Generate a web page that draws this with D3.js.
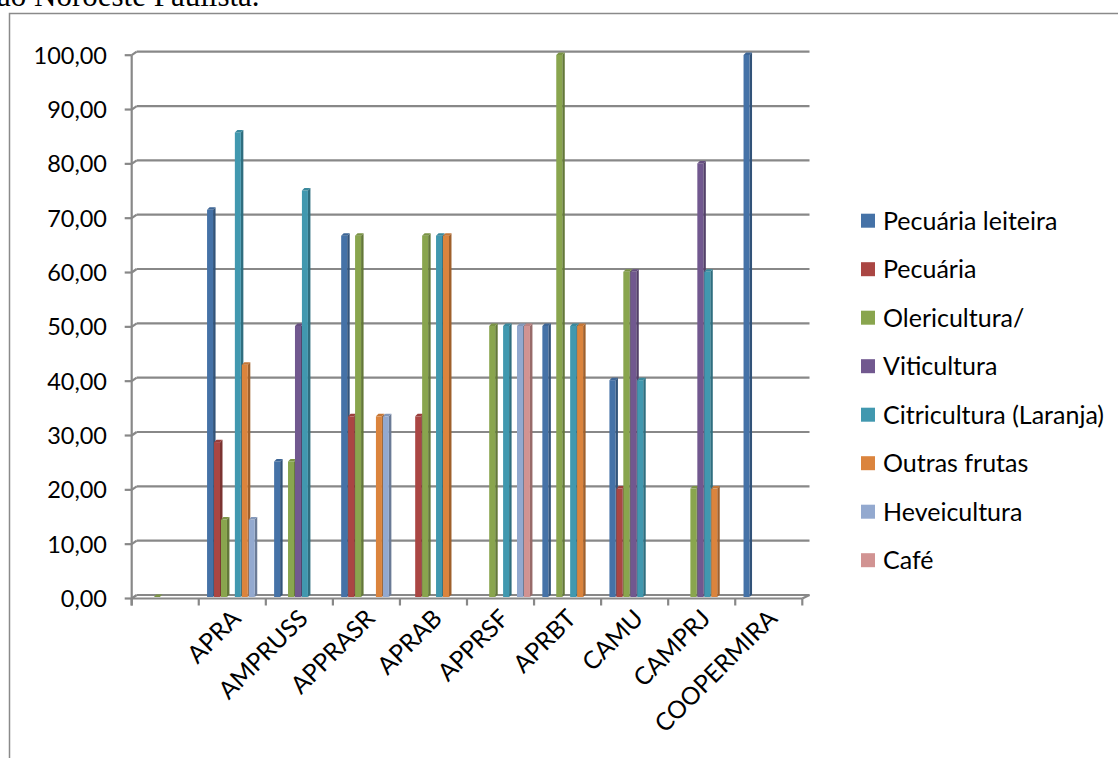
<!DOCTYPE html>
<html>
<head>
<meta charset="utf-8">
<script src="https://cdn.jsdelivr.net/npm/d3@7"></script>
<style>
  html, body { margin: 0; padding: 0; background: #fff; overflow: hidden; }
  svg { display: block; }
</style>
</head>
<body>
<svg id="chart" width="1118" height="758"></svg>
<script>
// Associações e cooperativas (eixo X); a primeira posição fica vazia
const categories = ["", "APRA", "AMPRUSS", "APPRASR", "APRAB", "APPRSF", "APRBT", "CAMU", "CAMPRJ", "COOPERMIRA"];

// Percentual de produtores por atividade (null = sem valor)
const pecuariaLeiteira = [null, 71.43, 25.00, 66.67, null, null, 50.00, 40.00, null, 100.00];
const pecuaria         = [null, 28.57, null, 33.33, 33.33, null, null, 20.00, null, null];
const olericultura     = [0.00, 14.29, 25.00, 66.67, 66.67, 50.00, 100.00, 60.00, 20.00, null];
const viticultura      = [null, null, 50.00, null, null, null, null, 60.00, 80.00, null];
const citricultura     = [null, 85.71, 75.00, null, 66.67, 50.00, 50.00, 40.00, 60.00, null];
const outrasFrutas     = [null, 42.86, null, 33.33, 66.67, null, 50.00, null, 20.00, null];
const heveicultura     = [null, 14.29, null, 33.33, null, 50.00, null, null, null, null];
const cafe             = [null, null, null, null, null, 50.00, null, null, null, null];

const seriesNames = ["Pecuária leiteira", "Pecuária", "Olericultura/", "Viticultura",
                     "Citricultura (Laranja)", "Outras frutas", "Heveicultura", "Café"];
const seriesValues = [pecuariaLeiteira, pecuaria, olericultura, viticultura,
                      citricultura, outrasFrutas, heveicultura, cafe];
const seriesColors = ["#4572A7", "#AA4643", "#89A54E", "#71588F",
                      "#4198AF", "#DB843D", "#93A9CF", "#D19392"];

const yTicks = [0, 10, 20, 30, 40, 50, 60, 70, 80, 90, 100];

const svg = d3.select("#chart");
const FONT = "Lato, 'Open Sans', sans-serif";
const axisColor = "#888888";

// Text of the document page above the chart frame
svg.append("text")
  .attr("x", -3).attr("y", 6)
  .attr("font-family", "'Liberation Serif', 'Times New Roman', serif")
  .attr("font-size", 31)
  .attr("fill", "#000")
  .text("ão Noroeste Paulista.");

// Chart frame
svg.append("rect")
  .attr("x", 9.5).attr("y", 13.5)
  .attr("width", 1200).attr("height", 800)
  .attr("fill", "#fff")
  .attr("stroke", "#8a8a8a").attr("stroke-width", 1.5);

// Plot geometry: front edge of the floor and the back wall (3-D depth offset)
const frontLeft = 131.7, frontRight = 802.3;
const backLeft = 136.7, backRight = 809.5;

const x0 = d3.scaleBand().domain(categories).range([frontLeft, frontRight]);
const x1 = d3.scaleBand().domain(d3.range(seriesNames.length)).range([8.3, 8.3 + 55.6]);
const yBack = d3.scaleLinear().domain([0, 100]).range([595, 51.7]);
const yFront = d3.scaleLinear().domain([0, 100]).range([598.5, 55.2]);
const yBar = d3.scaleLinear().domain([0, 100]).range([597, 55]);

const fmt = v => d3.format(".2f")(v).replace(".", ",");

// Back-wall gridlines
const grid = svg.append("g");
grid.selectAll("line.grid").data(yTicks).join("line")
  .attr("x1", backLeft).attr("x2", backRight)
  .attr("y1", d => yBack(d)).attr("y2", d => yBack(d))
  .attr("stroke", axisColor).attr("stroke-width", 2.2);
// diagonal joints from the front axis to the wall
grid.selectAll("line.join").data(yTicks).join("line")
  .attr("x1", frontLeft).attr("x2", backLeft)
  .attr("y1", d => yFront(d)).attr("y2", d => yBack(d))
  .attr("stroke", axisColor).attr("stroke-width", 2.2);

// Floor front edge and right corner
svg.append("line")
  .attr("x1", frontLeft).attr("x2", frontRight)
  .attr("y1", yFront(0)).attr("y2", yFront(0))
  .attr("stroke", axisColor).attr("stroke-width", 2.2);
svg.append("line")
  .attr("x1", frontRight).attr("x2", backRight)
  .attr("y1", yFront(0)).attr("y2", yBack(0))
  .attr("stroke", axisColor).attr("stroke-width", 2.2);

// Vertical axis with ticks and labels
svg.append("line")
  .attr("x1", frontLeft).attr("x2", frontLeft)
  .attr("y1", yFront(100)).attr("y2", yFront(0) + 7)
  .attr("stroke", axisColor).attr("stroke-width", 2.2);
svg.selectAll("line.ytick").data(yTicks).join("line")
  .attr("x1", frontLeft - 7).attr("x2", frontLeft)
  .attr("y1", d => yFront(d)).attr("y2", d => yFront(d))
  .attr("stroke", axisColor).attr("stroke-width", 2.2);
svg.selectAll("text.ylab").data(yTicks).join("text")
  .attr("x", 107).attr("y", d => yFront(d))
  .attr("dy", "0.36em")
  .attr("text-anchor", "end")
  .attr("font-family", FONT).attr("font-size", 23.5)
  .attr("fill", "#000")
  .text(fmt);

// Horizontal axis ticks at band edges
const edges = categories.map(c => x0(c)).concat([frontRight]);
svg.selectAll("line.xtick").data(edges).join("line")
  .attr("x1", d => d).attr("x2", d => d)
  .attr("y1", yFront(0)).attr("y2", yFront(0) + 7)
  .attr("stroke", axisColor).attr("stroke-width", 2.2);

// Category labels, rotated
svg.selectAll("text.xlab").data(categories).join("text")
  .attr("transform", d => `translate(${x0(d) + x0.bandwidth() / 2 - 3},${607}) rotate(-45)`)
  .attr("text-anchor", "end")
  .attr("dy", "0.75em")
  .attr("font-family", FONT).attr("font-size", 24.5)
  .attr("fill", "#000")
  .text(d => d);

// 3-D columns: front face, right side face and top cap
const face = 6, depth = 2.5;
const bars = [];
categories.forEach((c, ci) => {
  seriesValues.forEach((vals, si) => {
    const v = vals[ci];
    if (v !== null) bars.push({ c, si, v });
  });
});
const barG = svg.append("g");
const colG = barG.selectAll("g").data(bars).join("g");
colG.append("path") // side
  .attr("d", d => {
    const x = x0(d.c) + x1(d.si) + face, yt = yBar(d.v), yb = yBar(0);
    return `M${x},${yb}L${x},${yt}L${x + depth},${yt - depth}L${x + depth},${yb - depth}Z`;
  })
  .attr("fill", d => d3.color(seriesColors[d.si]).darker(0.9));
colG.append("rect") // front
  .attr("x", d => x0(d.c) + x1(d.si))
  .attr("y", d => yBar(d.v))
  .attr("width", face)
  .attr("height", d => yBar(0) - yBar(d.v))
  .attr("fill", d => seriesColors[d.si]);
colG.append("path") // top
  .attr("d", d => {
    const x = x0(d.c) + x1(d.si), yt = yBar(d.v);
    return `M${x},${yt}L${x + depth},${yt - depth}L${x + face + depth},${yt - depth}L${x + face},${yt}Z`;
  })
  .attr("fill", d => d3.color(seriesColors[d.si]).darker(0.3));

// Legend
const legend = svg.append("g");
const rows = legend.selectAll("g").data(seriesNames).join("g")
  .attr("transform", (d, i) => `translate(861,${220.7 + i * 48.5})`);
rows.append("rect")
  .attr("x", 0).attr("y", -7).attr("width", 14).attr("height", 14)
  .attr("fill", (d, i) => seriesColors[i]);
rows.append("text")
  .attr("x", 22).attr("dy", "0.36em")
  .attr("font-family", FONT).attr("font-size", 25)
  .attr("fill", "#000")
  .text(d => d);
</script>
</body>
</html>
